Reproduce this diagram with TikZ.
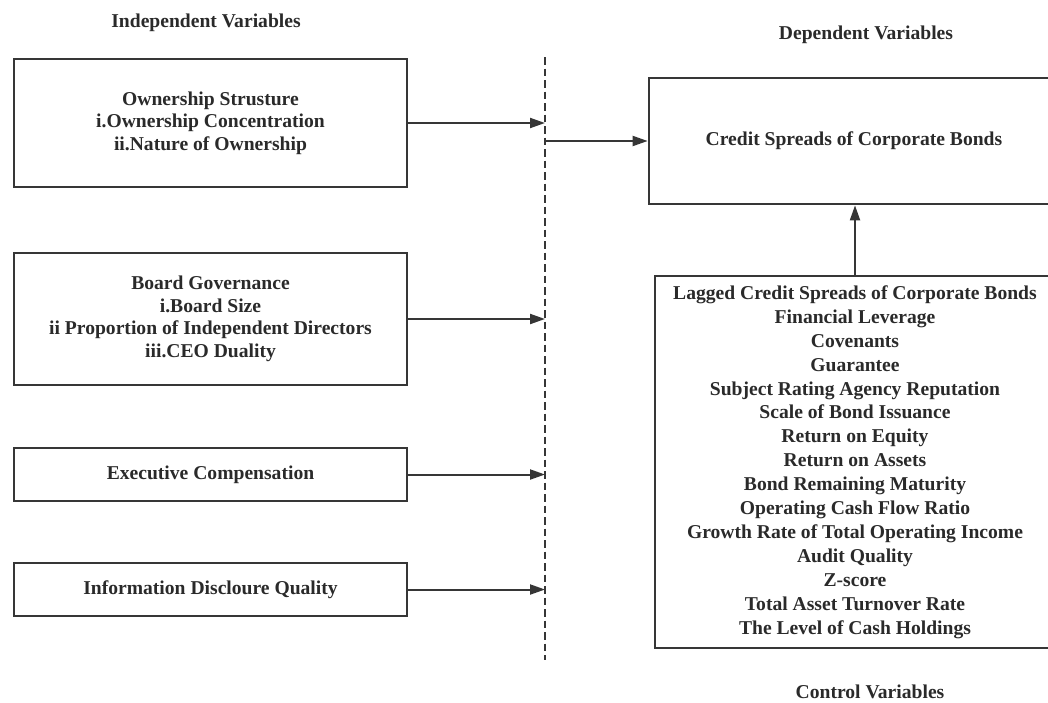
\documentclass[tikz,border=0pt]{standalone}
\usepackage{fontspec}
\setmainfont{Liberation Serif}
\usetikzlibrary{arrows.meta,positioning}
\definecolor{linegray}{HTML}{363636}
\definecolor{textgray}{HTML}{2A2A2A}

\begin{document}
\begin{tikzpicture}[x=1pt,y=-1pt,
  varbox/.style={draw=linegray,line width=2.7pt,align=center,inner sep=0pt,
    text=textgray,font=\fontsize{19.6}{22.6}\selectfont\bfseries},
  head/.style={text=textgray,font=\fontsize{19.6}{22.6}\selectfont\bfseries},
  arr/.style={draw=linegray,line width=2pt,-{Triangle[length=15pt,width=10pt]}}]
\useasboundingbox (0,0) rectangle (1048,702);

\node[head] (indephead) at (206,23) {Independent Variables};
\node[head] (dephead) at (866,35) {Dependent Variables};
\node[head] (ctrlhead) at (870,692) {Control Variables};

\node[varbox,minimum width=393pt,minimum height=128pt] (own) at (210.5,123)
  {Ownership Strusture\\i.Ownership Concentration\\ii.Nature of Ownership};
\node[varbox,minimum width=393pt,minimum height=132pt] (board) at (210.5,319)
  {Board Governance\\i.Board Size\\ii Proportion of Independent Directors\\iii.CEO Duality};
\node[varbox,minimum width=393pt,minimum height=53pt] (exec) at (210.5,474.5)
  {Executive Compensation};
\node[varbox,minimum width=393pt,minimum height=53pt] (info) at (210.5,589.5)
  {Information Discloure Quality};

\node[varbox,minimum width=410pt,minimum height=126pt] (dep) at (854,141)
  {Credit Spreads of Corporate Bonds};
\node[varbox,minimum width=400pt,minimum height=372pt,
  font=\fontsize{19.6}{23.9}\selectfont\bfseries] (ctrl) at (855,462)
  {Lagged Credit Spreads of Corporate Bonds\\Financial Leverage\\Covenants\\Guarantee\\
   Subject Rating Agency Reputation\\Scale of Bond Issuance\\Return on Equity\\
   Return on Assets\\Bond Remaining Maturity\\Operating Cash Flow Ratio\\
   Growth Rate of Total Operating Income\\Audit Quality\\Z-score\\
   Total Asset Turnover Rate\\The Level of Cash Holdings};

% dashed divider
\coordinate (dtop) at (545,57);
\coordinate (dbot) at (545,660);
\draw[linegray,line width=2.6pt,dash pattern=on 7.5pt off 4pt] (dtop) -- (dbot);

\foreach \b in {own,board,exec,info}
  \draw[arr] (\b.east) -- (\b.east -| dtop);
\draw[arr] (dep.west -| dtop) -- (dep.west);
\draw[arr] (ctrl.north) -- (ctrl.north |- dep.south);
\end{tikzpicture}
\end{document}
